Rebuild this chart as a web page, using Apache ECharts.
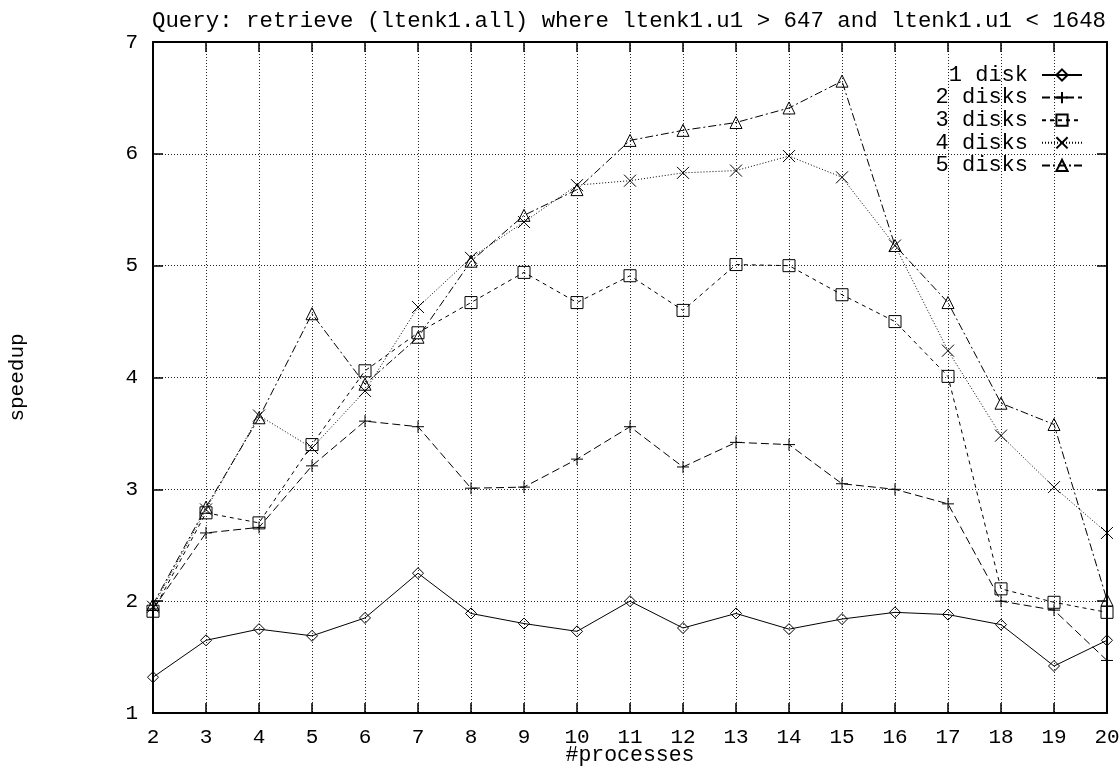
<!DOCTYPE html>
<html>
<head>
<meta charset="utf-8">
<script src="https://cdn.jsdelivr.net/npm/echarts@6/dist/echarts.min.js"></script>
<style>
html,body{margin:0;padding:0;background:#fff;}
#chart{width:1120px;height:768px;}
</style>
</head>
<body>
<div id="chart"></div>
<script>
// ---- data ----
const processes = [2,3,4,5,6,7,8,9,10,11,12,13,14,15,16,17,18,19,20];
const disk1 = [1.32,1.65,1.75,1.69,1.85,2.25,1.89,1.80,1.73,2.00,1.76,1.89,1.75,1.84,1.90,1.88,1.79,1.42,1.65];
const disk2 = [1.93,2.61,2.66,3.21,3.61,3.56,3.01,3.02,3.27,3.56,3.20,3.42,3.40,3.05,3.00,2.87,2.00,1.92,1.47];
const disk3 = [1.91,2.79,2.70,3.40,4.06,4.40,4.67,4.94,4.67,4.91,4.60,5.01,5.00,4.74,4.50,4.01,2.11,1.99,1.90];
const disk4 = [1.95,2.82,3.66,3.37,3.88,4.63,5.07,5.39,5.72,5.76,5.83,5.85,5.98,5.79,5.18,4.24,3.48,3.02,2.61];
const disk5 = [1.97,2.84,3.64,4.57,3.94,4.36,5.04,5.45,5.68,6.12,6.21,6.28,6.41,6.65,5.18,4.67,3.77,3.58,2.01];
const seriesNames = ['1 disk','2 disks','3 disks','4 disks','5 disks'];
const titleText = 'Query: retrieve (ltenk1.all) where ltenk1.u1 > 647 and ltenk1.u1 < 1648';
const xName = '#processes';
const yName = 'speedup';

const FONT = 'Liberation Mono';
const pair = arr => arr.map((v, i) => [processes[i], v]);

const styles = [
  {symbol: 'diamond', size: 11, dash: 'solid'},
  {symbol: 'path://M0,6L12,6M6,0L6,12', size: 12, dash: [8,4]},
  {symbol: 'rect', size: 12, dash: [4,4]},
  {symbol: 'path://M0,0L12,12M12,0L0,12', size: 12, dash: [1,2]},
  {symbol: 'triangle', size: 12, dash: [8,3,2,3]}
];
const allData = [disk1, disk2, disk3, disk4, disk5];

const series = allData.map((d, i) => ({
  name: seriesNames[i],
  type: 'line',
  data: pair(d),
  symbol: styles[i].symbol,
  symbolSize: styles[i].size,
  showAllSymbol: true,
  animation: false,
  lineStyle: {color: '#000', width: 1, type: styles[i].dash},
  itemStyle: {color: 'rgba(0,0,0,0)', borderColor: '#000', borderWidth: 1},
  emphasis: {disabled: true}
}));

const chart = echarts.init(document.getElementById('chart'));
chart.setOption({
  backgroundColor: '#fff',
  animation: false,
  title: {
    text: titleText,
    left: 624, top: 5, textAlign: 'center',
    textStyle: {fontFamily: FONT, fontSize: 22.4, fontWeight: 'normal', color: '#000'}
  },
  legend: {
    orient: 'vertical',
    right: 37, top: 64,
    padding: 0,
    align: 'right',
    itemWidth: 40, itemHeight: 14, itemGap: 0.6,
    data: seriesNames,
    textStyle: {fontFamily: FONT, fontSize: 22, color: '#000', lineHeight: 22, padding: [0, 9, 0, 0]}
  },
  grid: {left: 153, right: 13, top: 42, bottom: 55, containLabel: false, outerBoundsMode: 'none'},
  xAxis: [{
    type: 'value', min: 2, max: 20, interval: 1,
    name: xName, nameLocation: 'middle', nameGap: 31, nameMoveOverlap: false,
    nameTextStyle: {fontFamily: FONT, fontSize: 21.5, color: '#000'},
    axisLine: {show: true, lineStyle: {color: '#000', width: 2}},
    axisTick: {show: true, inside: true, length: 10, lineStyle: {color: '#000', width: 1.5}},
    axisLabel: {fontFamily: FONT, fontSize: 21, color: '#000', margin: 14},
    splitLine: {show: true, lineStyle: {color: '#222', width: 1, type: [1,2]}}
  }, {
    type: 'value', min: 2, max: 20, interval: 1, position: 'top',
    axisLine: {show: true, onZero: false, lineStyle: {color: '#000', width: 2}},
    axisTick: {show: true, inside: true, length: 10, lineStyle: {color: '#000', width: 1.5}},
    axisLabel: {show: false},
    splitLine: {show: false}
  }],
  yAxis: [{
    type: 'value', min: 1, max: 7, interval: 1,
    name: yName, nameLocation: 'middle', nameGap: 125, nameRotate: 90, nameMoveOverlap: false,
    nameTextStyle: {fontFamily: FONT, fontSize: 21, color: '#000'},
    axisLine: {show: true, lineStyle: {color: '#000', width: 2}},
    axisTick: {show: true, inside: true, length: 10, lineStyle: {color: '#000', width: 1.5}},
    axisLabel: {fontFamily: FONT, fontSize: 21, color: '#000', margin: 15},
    splitLine: {show: true, lineStyle: {color: '#222', width: 1, type: [1,2]}}
  }, {
    type: 'value', min: 1, max: 7, interval: 1, position: 'right',
    axisLine: {show: true, onZero: false, lineStyle: {color: '#000', width: 2}},
    axisTick: {show: true, inside: true, length: 10, lineStyle: {color: '#000', width: 1.5}},
    axisLabel: {show: false},
    splitLine: {show: false}
  }],
  series: series
});
</script>
</body>
</html>
